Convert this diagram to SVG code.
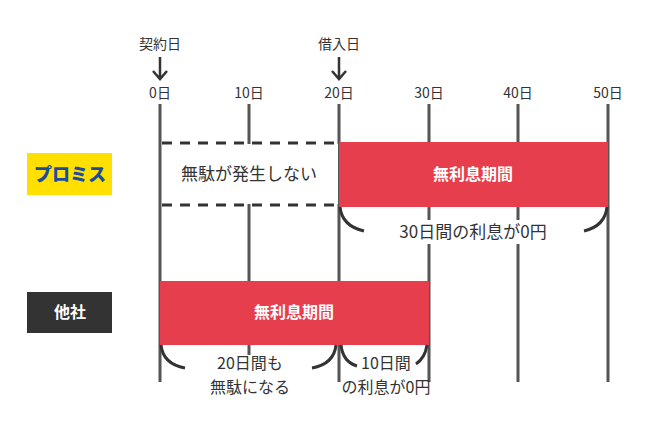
<svg xmlns="http://www.w3.org/2000/svg" width="650" height="439" viewBox="0 0 650 439">
<style>
text{font-family:"Noto Sans CJK JP","Noto Sans",sans-serif;text-anchor:middle;fill:#333}
.t{font-size:14px}.l{font-size:17px}.s{font-size:16px}.w{fill:#fff;font-size:16px;font-weight:bold}
.v{stroke:#555;stroke-width:3}
.b{fill:none;stroke:#333;stroke-width:3}
</style>
<rect width="650" height="439" fill="#fff"/>
<g id="axis">
<g class="v"><line x1="160" y1="104" x2="160" y2="382"/><line x1="249" y1="104" x2="249" y2="382"/><line x1="339" y1="104" x2="339" y2="382"/><line x1="429" y1="104" x2="429" y2="382"/><line x1="518" y1="104" x2="518" y2="382"/><line x1="608" y1="104" x2="608" y2="382"/></g>
<g class="t"><text x="160" y="98">0日</text><text x="249" y="98">10日</text><text x="339" y="98">20日</text><text x="429" y="98">30日</text><text x="518" y="98">40日</text><text x="608" y="98">50日</text>
<text x="160" y="49">契約日</text><text x="339" y="49">借入日</text></g>
<path d="M160 57V79M153 71L160 79L167 71M339 57V79M332 71L339 79L346 71" fill="none" stroke="#333" stroke-width="2.5"/>
</g>
<g id="promise">
<rect x="27" y="153" width="85" height="42" fill="#FFE000"/>
<text x="70" y="181" style="font-size:18px;font-weight:900;fill:#1a4d9e">プロミス</text>
<rect x="162" y="144" width="176" height="60" fill="#fff"/>
<path d="M162 143H339M162 205H339" stroke="#333" stroke-width="3" stroke-dasharray="10,8"/>
<text class="l" x="249" y="180">無駄が発生しない</text>
<rect x="339" y="142" width="269" height="65" fill="#E63E4C"/>
<text class="w" x="473" y="180">無利息期間</text>
<rect x="380" y="220" width="190" height="24" fill="#fff"/>
<path class="b" d="M340 207Q342 226 364 231M607 207Q605 226 584 231"/>
<text class="l" x="473" y="238">30日間の利息が0円</text>
</g>
<g id="other">
<rect x="27" y="292" width="85" height="41" fill="#333"/>
<text class="w" x="70" y="318">他社</text>
<rect x="160" y="281" width="269" height="64" fill="#E63E4C"/>
<text class="w" x="294" y="318">無利息期間</text>
<rect x="205" y="355" width="90" height="44" fill="#fff"/>
<path class="b" d="M161 345Q163 364 185 368M336 345Q334 364 312 368M341 345Q343 362 357 366M427 345Q425 358 416 364"/>
<text class="s" x="250" y="369">20日間も</text><text class="s" x="250" y="393">無駄になる</text>
<text class="s" x="386" y="369">10日間</text><text class="s" x="386" y="393">の利息が0円</text>
</g>
</svg>
